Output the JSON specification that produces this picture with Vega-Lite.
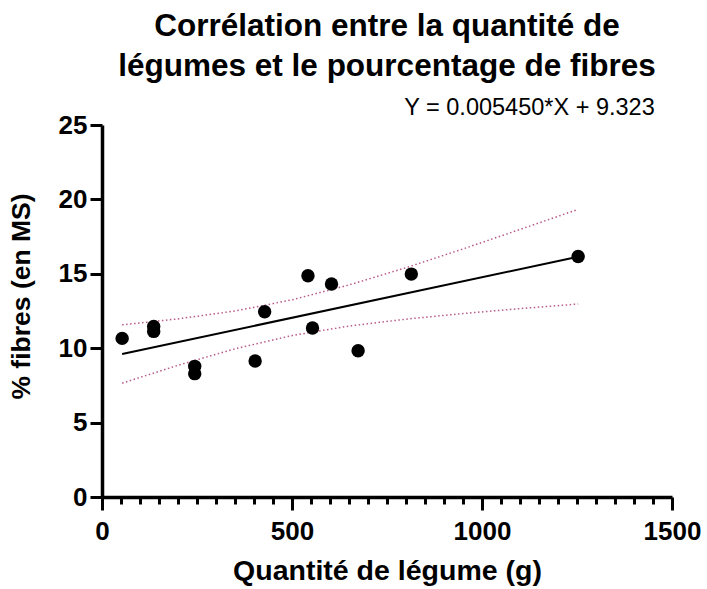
{
  "$schema": "https://vega.github.io/schema/vega-lite/v6.json",
  "width": 570,
  "height": 372,
  "autosize": "none",
  "padding": {"left": 102, "top": 125, "right": 35, "bottom": 92},
  "background": "white",
  "config": {"font": "Liberation Sans", "view": {"stroke": null}},
  "title": {
    "text": ["Corrélation entre la quantité de", "légumes et le pourcentage de fibres"],
    "fontSize": 31.5,
    "fontWeight": "bold",
    "lineHeight": 40,
    "anchor": "middle",
    "color": "black",
    "offset": 14
  },
  "datasets": {
    "points": [
      {"x": 53, "y": 10.66},
      {"x": 136, "y": 11.46},
      {"x": 136, "y": 11.13},
      {"x": 244, "y": 8.78},
      {"x": 244, "y": 8.29},
      {"x": 403, "y": 9.14},
      {"x": 428, "y": 12.45},
      {"x": 542, "y": 14.87},
      {"x": 554, "y": 11.36},
      {"x": 604, "y": 14.31},
      {"x": 674, "y": 9.83},
      {"x": 814, "y": 14.98},
      {"x": 1253, "y": 16.16}
    ],
    "fit": [
      {"x": 53, "y": 9.61},
      {"x": 1253, "y": 16.15}
    ],
    "band": [
      {"band": "upper", "x": 53, "y": 11.57},
      {"band": "upper", "x": 200, "y": 11.97},
      {"band": "upper", "x": 350, "y": 12.5},
      {"band": "upper", "x": 500, "y": 13.25},
      {"band": "upper", "x": 650, "y": 14.25},
      {"band": "upper", "x": 800, "y": 15.41},
      {"band": "upper", "x": 950, "y": 16.67},
      {"band": "upper", "x": 1100, "y": 17.98},
      {"band": "upper", "x": 1253, "y": 19.33},
      {"band": "lower", "x": 53, "y": 7.65},
      {"band": "lower", "x": 200, "y": 8.85},
      {"band": "lower", "x": 350, "y": 9.96},
      {"band": "lower", "x": 500, "y": 10.85},
      {"band": "lower", "x": 650, "y": 11.49},
      {"band": "lower", "x": 800, "y": 11.95},
      {"band": "lower", "x": 950, "y": 12.33},
      {"band": "lower", "x": 1100, "y": 12.66},
      {"band": "lower", "x": 1253, "y": 12.97}
    ],
    "eq": [
      {"x": 1125, "y": 26.14, "label": "Y = 0.005450*X + 9.323"}
    ]
  },
  "encoding": {
    "x": {
      "field": "x",
      "type": "quantitative",
      "scale": {"domain": [0, 1500], "nice": false, "zero": false},
      "axis": {
        "title": "Quantité de légume (g)",
        "titleFontSize": 28.5,
        "titleFontWeight": "bold",
        "titleColor": "black",
        "titlePadding": 12,
        "values": [0, 50, 100, 150, 200, 250, 300, 350, 400, 450, 500, 550, 600, 650, 700, 750, 800, 850, 900, 950, 1000, 1050, 1100, 1150, 1200, 1250, 1300, 1350, 1400, 1450, 1500],
        "format": "d",
        "labelExpr": "datum.value % 500 === 0 ? datum.label : ''",
        "labelOverlap": false,
        "labelFlush": false,
        "labelFontSize": 26,
        "labelFontWeight": "bold",
        "labelColor": "black",
        "labelPadding": 8,
        "tickSize": {"condition": {"test": "datum.value % 500 === 0", "value": 13}, "value": 7},
        "tickWidth": 3,
        "tickColor": "black",
        "domainWidth": 3.5,
        "domainColor": "black",
        "grid": false
      }
    },
    "y": {
      "field": "y",
      "type": "quantitative",
      "scale": {"domain": [0, 25], "nice": false, "zero": false},
      "axis": {
        "title": "% fibres (en MS)",
        "titleFontSize": 26.5,
        "titleFontWeight": "bold",
        "titleColor": "black",
        "titlePadding": 23,
        "titleY": 171,
        "values": [0, 5, 10, 15, 20, 25],
        "labelFontSize": 26,
        "labelFontWeight": "bold",
        "labelColor": "black",
        "labelPadding": 3,
        "tickSize": 12,
        "tickWidth": 3,
        "tickColor": "black",
        "domainWidth": 3.5,
        "domainColor": "black",
        "grid": false
      }
    }
  },
  "layer": [
    {
      "data": {"name": "band"},
      "mark": {"type": "line", "color": "#b85a88", "strokeWidth": 1.5, "strokeDash": [1.5, 2.5], "clip": false},
      "encoding": {"detail": {"field": "band"}}
    },
    {
      "data": {"name": "fit"},
      "mark": {"type": "line", "color": "black", "strokeWidth": 2},
      "encoding": {}
    },
    {
      "data": {"name": "points"},
      "mark": {"type": "circle", "size": 180, "opacity": 1, "color": "black"},
      "encoding": {}
    },
    {
      "data": {"name": "eq"},
      "mark": {"type": "text", "fontSize": 23.5, "color": "black", "align": "center", "baseline": "middle", "clip": false},
      "encoding": {"text": {"field": "label"}}
    }
  ]
}
